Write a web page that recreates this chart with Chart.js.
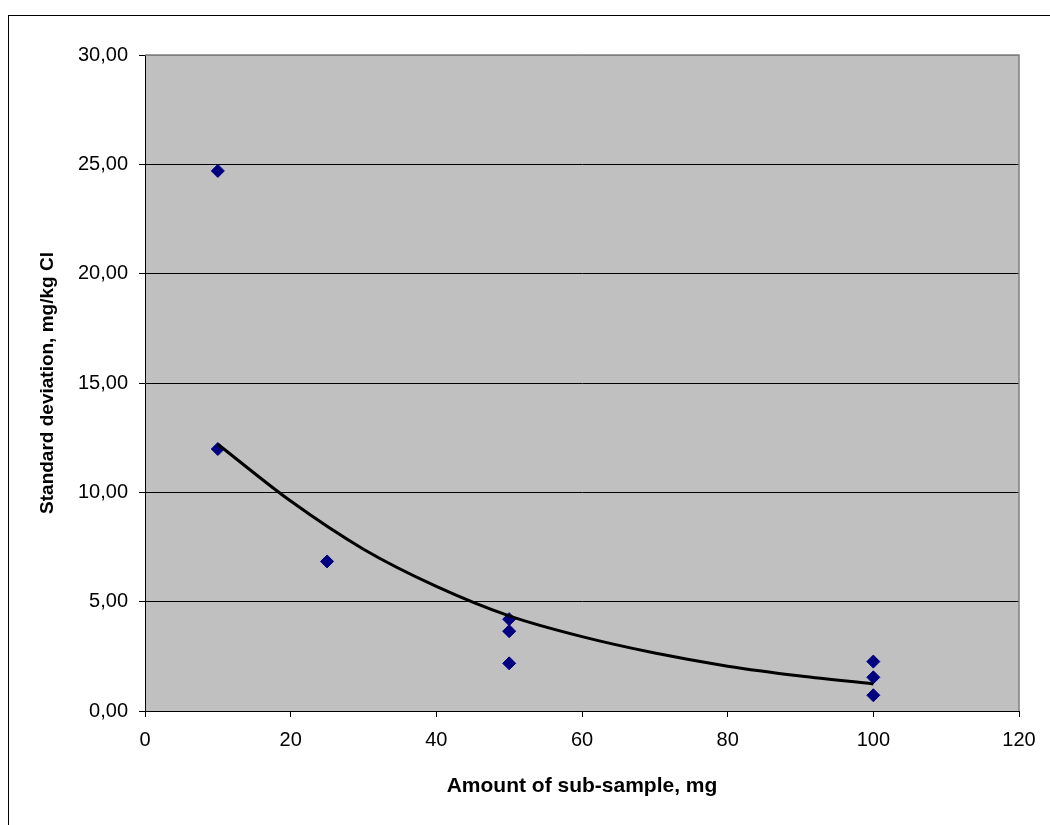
<!DOCTYPE html>
<html>
<head>
<meta charset="utf-8">
<script src="https://cdn.jsdelivr.net/npm/chart.js@4.4.1/dist/chart.umd.min.js"></script>
<style>
  body { margin: 0; background: #fff; }
  #wrap { position: relative; width: 1050px; height: 825px; overflow: hidden; }
  #frame { position: absolute; left: 8px; top: 15px; width: 1100px; height: 900px;
           border-left: 1px solid #000; border-top: 1px solid #000; }
  #chart { position: absolute; left: 0; top: 0; }
</style>
</head>
<body>
<div id="wrap">
  <div id="frame"></div>
  <canvas id="chart" width="1050" height="825"></canvas>
</div>
<script>
  // measured samples
  const sampleX = [10, 10, 25, 50, 50, 50, 100, 100, 100];
  const sampleY = [24.7, 11.98, 6.84, 4.2, 3.65, 2.18, 2.26, 1.54, 0.72];

  // trendline
  const trendX = [10, 20, 30, 40, 50, 60, 70, 80, 90, 100];
  const trendY = [12.2, 9.6, 7.4, 5.7, 4.35, 3.4, 2.65, 2.05, 1.6, 1.24];

  const xTicks = [0, 20, 40, 60, 80, 100, 120];
  const yTicks = [0, 5, 10, 15, 20, 25, 30];

  const fontFamily = "'Liberation Sans', Arial, sans-serif";

  const plotBg = {
    id: 'plotBg',
    beforeDraw(chart) {
      const { ctx, chartArea: a } = chart;
      ctx.save();
      ctx.fillStyle = '#c0c0c0';
      ctx.fillRect(a.left, a.top, a.right - a.left, a.bottom - a.top);
      ctx.restore();
    },
    afterDatasetsDraw(chart) {
      const { ctx, chartArea: a } = chart;
      ctx.save();
      ctx.strokeStyle = '#808080';
      ctx.lineWidth = 1.5;
      ctx.beginPath();
      ctx.moveTo(a.left, a.top);
      ctx.lineTo(a.right, a.top);
      ctx.lineTo(a.right, a.bottom);
      ctx.stroke();
      ctx.restore();
    }
  };

  new Chart(document.getElementById('chart').getContext('2d'), {
    type: 'scatter',
    data: {
      datasets: [
        {
          label: 'Trend',
          data: trendX.map((x, i) => ({ x, y: trendY[i] })),
          showLine: true,
          borderColor: '#000',
          borderWidth: 3,
          pointRadius: 0,
          tension: 0.4,
          cubicInterpolationMode: 'monotone'
        },
        {
          label: 'Standard deviation',
          data: sampleX.map((x, i) => ({ x, y: sampleY[i] })),
          pointStyle: 'rectRot',
          pointRadius: 6.5,
          backgroundColor: '#000080',
          borderColor: '#000080',
          borderWidth: 1
        }
      ]
    },
    options: {
      responsive: false,
      animation: false,
      layout: { padding: { left: 0, top: 55, right: 31, bottom: 0 } },
      plugins: { legend: { display: false }, tooltip: { enabled: false } },
      scales: {
        x: {
          type: 'linear',
          min: 0,
          max: 120,
          afterBuildTicks: s => { s.ticks = xTicks.map(v => ({ value: v })); },
          afterFit: s => { s.height = 114; },
          grid: { drawOnChartArea: false, drawTicks: true, tickLength: 6, color: '#000' },
          border: { display: true, color: '#000', width: 1 },
          ticks: { color: '#000', padding: 11, font: { family: fontFamily, size: 20 } },
          title: {
            display: true,
            text: 'Amount of sub-sample, mg',
            color: '#000',
            font: { family: fontFamily, size: 21, weight: 'bold' },
            padding: { top: 0, bottom: 26 }
          }
        },
        y: {
          min: 0,
          max: 30,
          afterBuildTicks: s => { s.ticks = yTicks.map(v => ({ value: v })); },
          afterFit: s => { s.width = 145; },
          grid: {
            drawTicks: true,
            tickLength: 6,
            color: c => (c.tick && c.tick.value === 30 ? '#808080' : '#000'),
            tickColor: '#000'
          },
          border: { display: true, color: '#000', width: 1 },
          ticks: {
            color: '#000',
            padding: 11,
            font: { family: fontFamily, size: 20 },
            callback: v => v.toFixed(2).replace('.', ',')
          },
          title: {
            display: true,
            text: 'Standard deviation, mg/kg Cl',
            color: '#000',
            font: { family: fontFamily, size: 19, weight: 'bold' },
            padding: { top: 36, bottom: 0 }
          }
        }
      }
    },
    plugins: [plotBg]
  });
</script>
</body>
</html>
